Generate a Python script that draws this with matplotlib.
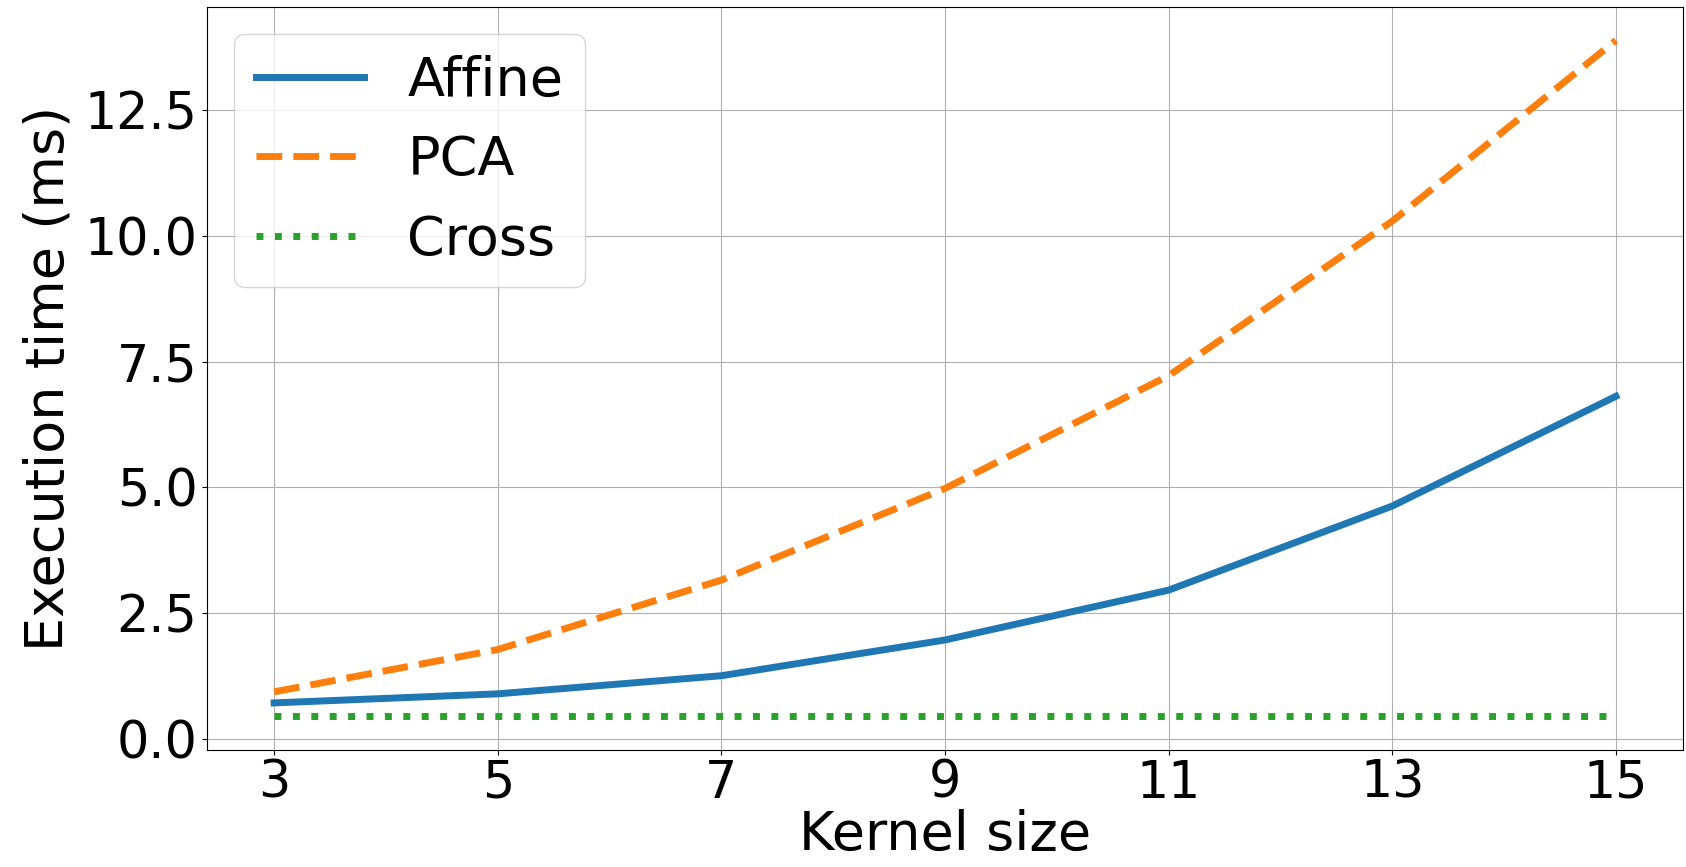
import numpy as np
import matplotlib
matplotlib.use("Agg")
import matplotlib.pyplot as plt
from matplotlib.ticker import MultipleLocator

kernel_sizes = [3, 5, 7, 9, 11, 13, 15]
affine_ms = [0.72, 0.90, 1.26, 1.97, 2.96, 4.63, 6.81]
pca_ms = [0.94, 1.78, 3.16, 4.98, 7.22, 10.29, 13.88]
cross_ms = [0.45, 0.45, 0.45, 0.45, 0.45, 0.45, 0.45]

fig = plt.figure(figsize=(16.86, 8.67), dpi=100)
ax = fig.add_subplot(1, 1, 1)
fig.subplots_adjust(left=0.1228, right=0.9982, top=0.9924, bottom=0.1346)

ax.plot(kernel_sizes, affine_ms, '-', lw=5, label='Affine')
ax.plot(kernel_sizes, pca_ms, '--', lw=5, label='PCA')
ax.plot(kernel_sizes, cross_ms, ':', lw=5, label='Cross')

ax.set_xticks(kernel_sizes)
ax.yaxis.set_major_locator(MultipleLocator(2.5))
ax.tick_params(labelsize=36.5)
ax.tick_params(axis='x', pad=2.5)
ax.set_xlabel('Kernel size', fontsize=39, labelpad=0)
ax.set_ylabel('Execution time (ms)', fontsize=39, labelpad=7)
ax.grid(True)
ax.legend(loc='upper left', fontsize=39)

fig.savefig('out.png', dpi=100)
